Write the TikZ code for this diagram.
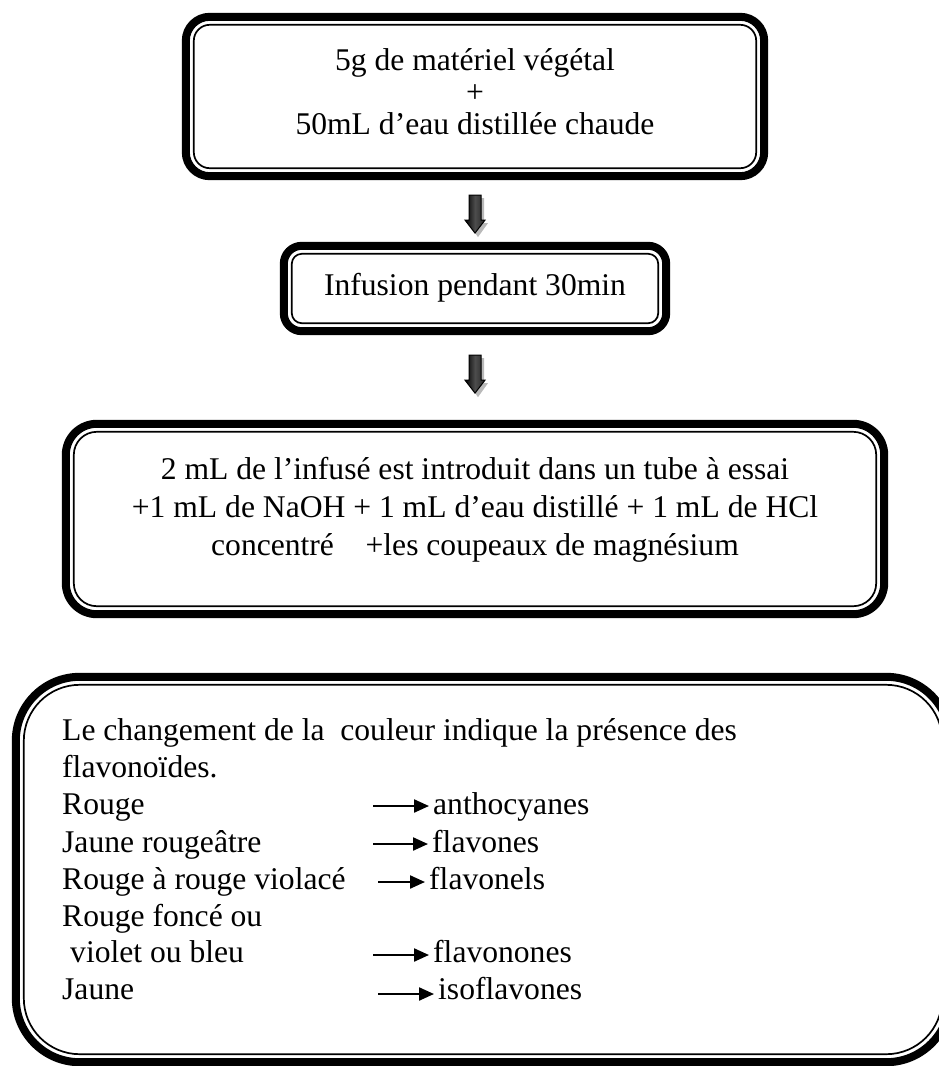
\documentclass[tikz,border=0pt]{standalone}
\usepackage{fontspec}
\setmainfont{Liberation Serif}
\usetikzlibrary{calc,arrows.meta}
\tikzset{
  box/.style={draw=none, inner sep=0pt},
  thickline/.style={draw=black, line width=8pt, rounded corners=#1},
  thinline/.style={draw=black, line width=1.7pt, rounded corners=#1},
  txt/.style={inner sep=0pt, font=\fontsize{31.6}{37}\selectfont},
  sarrow/.style={line width=2.2pt, -{Triangle[length=15pt,width=13pt]}, shorten >=4pt},
  blockarrow/.pic={
    \fill[gray!55] (-3,-16) -- (9,-16) -- (9,9) -- (13,9) -- (3,23) -- (-7,9) -- (-3,9) -- cycle;
    \shade[left color=black, right color=black!85, middle color=gray!60!black, draw=black, line width=1pt]
      (-6,-19) -- (6,-19) -- (6,6) -- (10,6) -- (0,19) -- (-10,6) -- (-6,6) -- cycle;
  }
}
\newcommand{\dblborder}[3]{%
  \draw[thickline=#2] ($(#1.north west)+(4,4)$) rectangle ($(#1.south east)+(-4,-4)$);
  \draw[thinline=#3] ($(#1.north west)+(12,12)$) rectangle ($(#1.south east)+(-12,-12)$);
}
\begin{document}
\begin{tikzpicture}[x=1pt,y=-1pt]
\useasboundingbox (0,0) rectangle (939,1066);
\clip (0,0) rectangle (939,1066);

% box 1
\node[box, minimum width=586pt, minimum height=167pt] (b1) at (475,96.5) {};
\dblborder{b1}{24pt}{16pt}
\node[txt, anchor=base] (t1a) at (475,70) {5g de matériel végétal};
\node[txt, anchor=base] (t1b) at (475,102) {+};
\node[txt, anchor=base] (t1c) at (475,134) {50mL d’eau distillée chaude};

% box 2
\node[box, minimum width=390pt, minimum height=93pt] (b2) at (475,288.5) {};
\dblborder{b2}{18pt}{10pt}
\node[txt, anchor=base] (t2) at (475,295) {Infusion pendant 30min};

% box 3
\node[box, minimum width=826pt, minimum height=198pt] (b3) at (475,519) {};
\dblborder{b3}{31pt}{23pt}
\node[txt, anchor=base] (t3a) at (475,479) {2 mL de l’infusé est introduit dans un tube à essai};
\node[txt, anchor=base] (t3b) at (475,517) {+1 mL de NaOH + 1 mL d’eau distillé + 1 mL de HCl};
\node[txt, anchor=base] (t3c) at (475,555) {concentré\hspace{1em}+les coupeaux de magnésium};

% block arrows
\pic (a1) at ($(b1.south)!0.55!(b2.north)$) {blockarrow};
\pic (a2) at ($(b2.south)!0.46!(b3.north)$) {blockarrow};

% box 4
\node[box, minimum width=942pt, minimum height=393pt] (b4) at (483,869.5) {};
\dblborder{b4}{64pt}{56pt}

\node[txt, anchor=base west] (l1) at (62,740) {Le changement de la\hspace{0.5em}couleur indique la présence des};
\node[txt, anchor=base west] (l2) at (62,777) {flavonoïdes.};
\node[txt, anchor=base west] (l3) at (62,814) {Rouge};
\node[txt, anchor=base west] (l4) at (62,852) {Jaune rougeâtre};
\node[txt, anchor=base west] (l5) at (62,889) {Rouge à rouge violacé};
\node[txt, anchor=base west] (l6) at (62,926) {Rouge foncé ou};
\node[txt, anchor=base west] (l7) at (70,962) {violet ou bleu};
\node[txt, anchor=base west] (l8) at (62,999) {Jaune};

\node[txt, anchor=base west] (c1) at (433,814) {anthocyanes};
\node[txt, anchor=base west] (c2) at (432,852) {flavones};
\node[txt, anchor=base west] (c3) at (429,889) {flavonels};
\node[txt, anchor=base west] (c4) at (433,962) {flavonones};
\node[txt, anchor=base west] (c5) at (438,999) {isoflavones};

\coordinate (s1) at (373,806);
\coordinate (s2) at (373,844);
\coordinate (s3) at (378,882);
\coordinate (s4) at (373,955);
\coordinate (s5) at (378,994);
\draw[sarrow] (s1) -- (s1 -| c1.west);
\draw[sarrow] (s2) -- (s2 -| c2.west);
\draw[sarrow] (s3) -- (s3 -| c3.west);
\draw[sarrow] (s4) -- (s4 -| c4.west);
\draw[sarrow] (s5) -- (s5 -| c5.west);
\end{tikzpicture}
\end{document}
